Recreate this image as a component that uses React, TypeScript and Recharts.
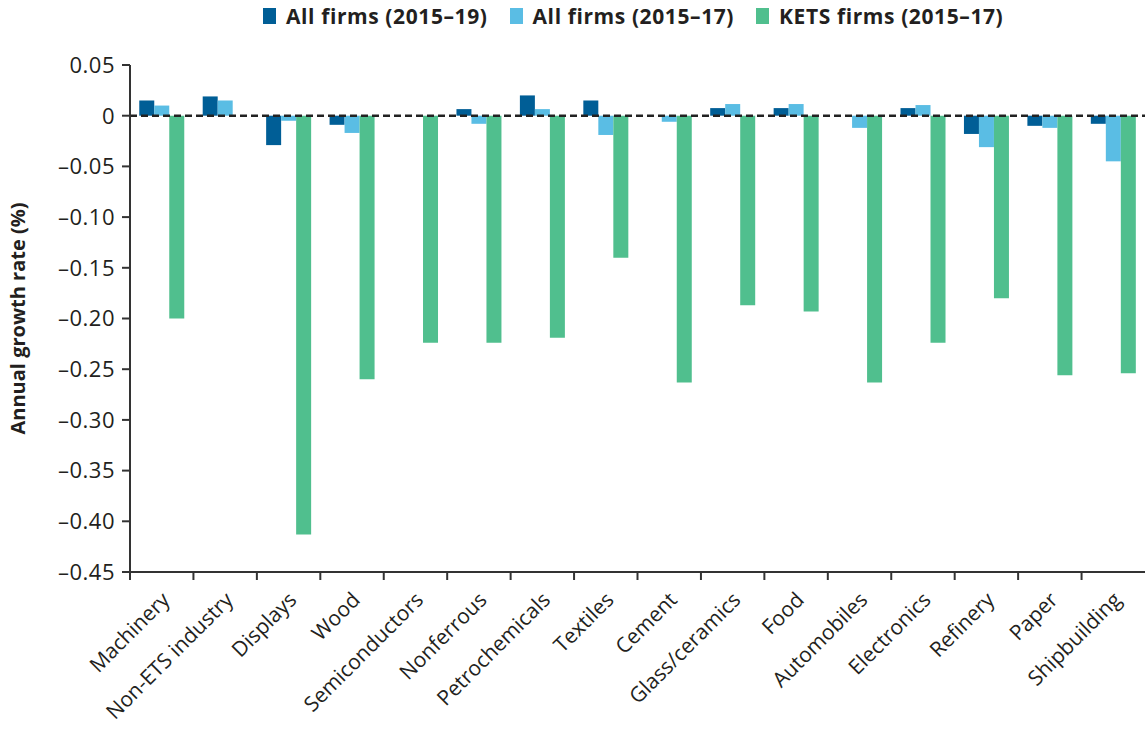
import React from "react";
import { BarChart, Bar, XAxis, YAxis, ReferenceLine, Legend, Label } from "recharts";

const categories = ["Machinery", "Non-ETS industry", "Displays", "Wood", "Semiconductors", "Nonferrous", "Petrochemicals", "Textiles", "Cement", "Glass/ceramics", "Food", "Automobiles", "Electronics", "Refinery", "Paper", "Shipbuilding"];
const all1519 = [0.015, 0.019, -0.029, -0.009, 0, 0.0065, 0.020, 0.015, 0, 0.0075, 0.0075, 0, 0.0075, -0.018, -0.010, -0.008];
const all1517 = [0.010, 0.015, -0.005, -0.017, 0, -0.008, 0.0065, -0.019, -0.006, 0.0115, 0.0115, -0.012, 0.0105, -0.031, -0.012, -0.045];
const kets1517 = [-0.200, 0, -0.413, -0.260, -0.224, -0.224, -0.219, -0.140, -0.263, -0.187, -0.193, -0.263, -0.224, -0.180, -0.256, -0.254];
const yTicks = [0.05, 0, -0.05, -0.1, -0.15, -0.2, -0.25, -0.3, -0.35, -0.4, -0.45];

const seriesNames = ["All firms (2015\u201319)", "All firms (2015\u201317)", "KETS firms (2015\u201317)"];
const colors = ["#005E96", "#5ABDE4", "#50BF8E"];

const data = categories.map((c, i) => ({
  name: c,
  a: all1519[i],
  b: all1517[i],
  k: kets1517[i],
}));

const W = 1145;
const H = 730;
const FONT = "'Open Sans', sans-serif";
const TEXT = "#231F20";
const AXIS = "#333333";

const fmt = (v: number) => (v === 0 ? "0" : v < 0 ? "\u2013" + Math.abs(v).toFixed(2) : v.toFixed(2));

const XTick = (props: any) => {
  const { x, y, payload } = props;
  const half = payload && payload.offset ? payload.offset : (W - 130) / 32;
  const tx = x + 4;
  const ty = y + 24;
  return (
    <g>
      <line x1={x - half} y1={y} x2={x - half} y2={y + 8} stroke={AXIS} strokeWidth={2} />
      <text
        x={tx}
        y={ty}
        dy="0.35em"
        textAnchor="end"
        transform={`rotate(-45 ${tx} ${ty})`}
        fontFamily={FONT}
        fontSize={21}
        fill={TEXT}
      >
        {payload.value}
      </text>
    </g>
  );
};

const LegendContent = () => (
  <div style={{ display: "flex", justifyContent: "flex-start", alignItems: "center", fontFamily: FONT, fontWeight: 700, fontSize: 21, letterSpacing: 0.6, color: TEXT, paddingLeft: 263 }}>
    {seriesNames.map((n, i) => (
      <div key={n} style={{ display: "flex", alignItems: "center", marginRight: i < 2 ? 22 : 0 }}>
        <span style={{ display: "inline-block", width: 13, height: 16, background: colors[i], marginRight: 10 }} />
        <span>{n}</span>
      </div>
    ))}
  </div>
);

const YLabel = (props: any) => {
  const vb = props.viewBox || {};
  const cy = (vb.y || 65) + (vb.height || 507) / 2;
  const cx = 25;
  return (
    <text
      x={cx}
      y={cy}
      textAnchor="middle"
      transform={`rotate(-90 ${cx} ${cy})`}
      fontFamily={FONT}
      fontWeight={700}
      fontSize={20}
      fill={TEXT}
    >
      Annual growth rate (%)
    </text>
  );
};

export default function App() {
  return (
    <div style={{ position: "absolute", left: 0, top: 0, width: W, height: H, background: "#fff" }}>
      <BarChart
        width={W}
        height={H}
        data={data}
        margin={{ top: 65, right: 0, bottom: 8, left: 0 }}
        barCategoryGap="14.6%"
        barGap={0}
      >
        <Legend
          verticalAlign="middle"
          align="center"
          layout="horizontal"
          wrapperStyle={{ top: 2, left: 0, width: W }}
          content={<LegendContent />}
        />
        <YAxis
          type="number"
          domain={[-0.45, 0.05]}
          ticks={yTicks}
          interval={0}
          width={130}
          tickFormatter={fmt}
          tick={{ fontFamily: FONT, fontSize: 22, fill: TEXT, letterSpacing: 0.5 }}
          tickSize={8}
          tickMargin={7}
          axisLine={{ stroke: AXIS, strokeWidth: 2 }}
          tickLine={{ stroke: AXIS, strokeWidth: 2 }}
          allowDataOverflow
        >
          <Label content={<YLabel />} />
        </YAxis>
        <XAxis
          dataKey="name"
          interval={0}
          height={150}
          tick={<XTick />}
          tickLine={false}
          tickSize={0}
          tickMargin={0}
          axisLine={{ stroke: AXIS, strokeWidth: 2 }}
        />
        <Bar dataKey="a" name={seriesNames[0]} fill={colors[0]} isAnimationActive={false} />
        <Bar dataKey="b" name={seriesNames[1]} fill={colors[1]} isAnimationActive={false} />
        <Bar dataKey="k" name={seriesNames[2]} fill={colors[2]} isAnimationActive={false} />
        <ReferenceLine y={0} stroke="#222" strokeWidth={2.5} strokeDasharray="7 4" />
      </BarChart>
    </div>
  );
}
